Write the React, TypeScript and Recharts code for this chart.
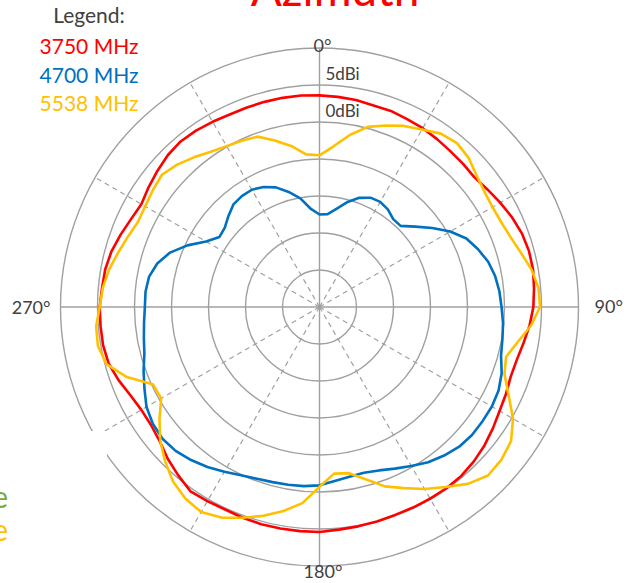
import React from 'react';
import { RadarChart, Radar, PolarGrid, PolarAngleAxis, PolarRadiusAxis } from 'recharts';

// Azimuth angle (degrees, clockwise from 0° at top)
const angles = [
  0, 5, 10, 15, 20, 25, 30, 35, 40, 45, 50, 55, 60, 65, 70, 75, 80, 85,
  90, 95, 100, 105, 110, 115, 120, 125, 130, 135, 140, 145, 150, 155, 160, 165, 170, 175,
  180, 185, 190, 195, 200, 205, 210, 215, 220, 225, 230, 235, 240, 245, 250, 255, 260, 265,
  270, 275, 280, 285, 290, 295, 300, 305, 310, 315, 320, 325, 330, 335, 340, 345, 350, 355,
];

// Gain in dBi
const gain3750 = [
  3.6, 3.5, 3.4, 3.2, 3.2, 3.0, 2.9, 2.7, 2.5, 2.4, 2.3, 2.7, 3.2, 3.7, 4.1, 4.3, 4.3, 4.1,
  3.9, 3.5, 3.0, 2.6, 2.5, 2.8, 3.1, 3.6, 4.1, 4.5, 4.8, 4.9, 4.9, 4.9, 4.9, 5.0, 5.1, 5.2,
  5.4, 5.4, 5.4, 5.4, 5.3, 5.2, 5.3, 5.4, 4.7, 4.0, 3.2, 2.8, 2.8, 3.2, 3.9, 4.5, 4.7, 4.7,
  4.7, 4.5, 4.4, 4.1, 3.6, 3.1, 2.8, 3.2, 3.6, 4.0, 4.2, 4.1, 3.9, 3.7, 3.7, 3.7, 3.7, 3.7,
];
const gain4700 = [
  -12.5, -12.4, -11.5, -10.3, -9.3, -8.7, -8.6, -8.9, -9.5, -9.5, -8.1, -6.4, -4.6, -3.1, -2.2, -1.4, -0.9, -0.6,
  -0.4, -0.1, 0.1, 0.4, 1.2, 1.7, 1.9, 1.9, 1.9, 1.7, 1.2, 0.6, -0.2, -0.9, -1.5, -1.8, -1.7, -1.4,
  -0.9, -0.7, -0.6, -0.5, -0.3, 0.1, 0.7, 1.4, 2.0, 2.5, 2.7, 2.5, 2.0, 1.1, 0.3, -0.5, -0.9, -1.2,
  -1.4, -1.4, -1.6, -2.3, -3.5, -5.3, -7.3, -8.5, -8.3, -7.6, -6.9, -6.7, -6.7, -7.1, -7.8, -8.9, -10.1, -11.7,
];
const gain5538 = [
  -4.5, -3.2, -1.4, 0.2, 1.1, 2.0, 2.7, 3.6, 3.9, 3.5, 2.7, 2.2, 2.0, 2.1, 2.5, 3.2, 4.1, 4.7,
  4.8, 3.7, 2.2, 1.1, 1.6, 3.2, 5.2, 6.6, 7.1, 7.2, 6.2, 4.7, 3.4, 2.0, 0.8, -0.9, -2.2, -2.4,
  -0.7, 1.6, 3.0, 4.2, 5.3, 6.4, 7.0, 6.6, 5.8, 4.5, 3.1, 1.4, -0.3, -0.2, 2.7, 4.8, 5.4, 5.3,
  4.7, 4.4, 3.9, 3.2, 2.6, 2.1, 2.2, 2.5, 2.8, 2.2, 1.4, 0.6, 0.1, -0.2, -0.5, -1.7, -2.9, -4.3,
];

const seriesKeys = ['g3750', 'g4700', 'g5538'];
const seriesNames = ['3750 MHz', '4700 MHz', '5538 MHz'];
const seriesColors = ['#FF0000', '#0070C0', '#FFC000'];

const angleTicks = [0, 90, 180, 270];
const angleTickLabels = ['0°', '90°', '180°', '270°'];
const radiusTicks = [-25, -20, -15, -10, -5, 0, 5, 10];
const labeledRadiusTicks = [5, 0];
const radiusTickLabels = ['5dBi', '0dBi'];
const dashedSpokeAngles = [60, 30, -30, -60, -120, -150, 150, 120];

const titleText = 'Azimuth';
const legendHeading = 'Legend:';
const clippedTexts = ['e', 'e'];
const clippedColors = ['#70AD47', '#FFC000'];

const data = angles.map((a, i) => ({
  angle: a,
  g3750: gain3750[i],
  g4700: gain4700[i],
  g5538: gain5538[i],
}));

const FONT = 'Lato, "Open Sans", sans-serif';
const TEXT_GRAY = '#404040';

const AngleTick = (props: any) => {
  const { x, y, payload } = props;
  const v = payload.value;
  const idx = angleTicks.indexOf(v);
  const label = idx >= 0 ? angleTickLabels[idx] : '';
  let tx = x;
  let ty = y;
  let anchor: 'start' | 'middle' | 'end' = 'middle';
  if (v === 0) { tx = x + 3; ty = y + 12; anchor = 'middle'; }
  else if (v === 90) { tx = x + 8; ty = y + 6; anchor = 'start'; }
  else if (v === 180) { tx = x + 3.5; ty = y + 4; anchor = 'middle'; }
  else if (v === 270) { tx = x - 2; ty = y + 7; anchor = 'end'; }
  return (
    <text x={tx} y={ty} textAnchor={anchor} fontFamily={FONT} fontSize={18} fill={TEXT_GRAY}>
      {label}
    </text>
  );
};

const RadiusTick = (props: any) => {
  const { x, y, payload } = props;
  const idx = labeledRadiusTicks.indexOf(payload.value);
  if (idx < 0) return <g />;
  return (
    <text x={x + 6} y={y - 5} textAnchor="start" fontFamily={FONT} fontSize={17} fill={TEXT_GRAY}>
      {radiusTickLabels[idx]}
    </text>
  );
};

export default function App() {
  return (
    <div style={{ position: 'absolute', left: 0, top: 0, width: 638, height: 583, background: '#fff', overflow: 'hidden' }}>
      <RadarChart
        width={638}
        height={583}
        data={data}
        cx={319.5}
        cy={307}
        innerRadius={0}
        outerRadius={259}
        startAngle={90}
        endAngle={-270}
        margin={{ top: 0, right: 0, bottom: 0, left: 0 }}
      >
        <PolarGrid gridType="circle" stroke="#A0A0A0" strokeWidth={1.4} />
        <PolarGrid
          gridType="circle"
          polarAngles={dashedSpokeAngles}
          polarRadius={[]}
          stroke="#A0A0A0"
          strokeWidth={1.2}
          strokeDasharray="5 4"
        />
        <PolarAngleAxis
          dataKey="angle"
          type="number"
          domain={[0, 360]}
          ticks={angleTicks}
          tick={AngleTick}
          axisLine={false}
          tickLine={false}
        />
        <PolarRadiusAxis
          type="number"
          domain={[-25, 10]}
          ticks={radiusTicks}
          tickCount={8}
          angle={90}
          axisLine={false}
          tick={RadiusTick}
        />
        {seriesKeys.map((k, i) => (
          <Radar
            key={k}
            name={seriesNames[i]}
            dataKey={k}
            stroke={seriesColors[i]}
            strokeWidth={2.6}
            strokeLinejoin="round"
            fill="none"
            fillOpacity={0}
            dot={false}
            isAnimationActive={false}
          />
        ))}
      </RadarChart>
      <svg width={638} height={583} style={{ position: 'absolute', left: 0, top: 0, pointerEvents: 'none' }}>
        <rect x={0} y={431} width={107} height={152} fill="#fff" />
        <text x={335} y={6} textAnchor="middle" fontFamily={FONT} fontSize={46} fill="#FF0000">
          {titleText}
        </text>
        <text x={89} y={23} textAnchor="middle" fontFamily={FONT} fontSize={21} fill={TEXT_GRAY}>
          {legendHeading}
        </text>
        {seriesNames.map((n, i) => (
          <text key={n} x={89} y={54 + i * 28.7} textAnchor="middle" fontFamily={FONT} fontSize={21} fill={seriesColors[i]}>
            {n}
          </text>
        ))}
        {clippedTexts.map((t, i) => (
          <text key={i} x={8} y={508 + i * 33} textAnchor="end" fontFamily={FONT} fontSize={30} fill={clippedColors[i]}>
            {t}
          </text>
        ))}
      </svg>
    </div>
  );
}
